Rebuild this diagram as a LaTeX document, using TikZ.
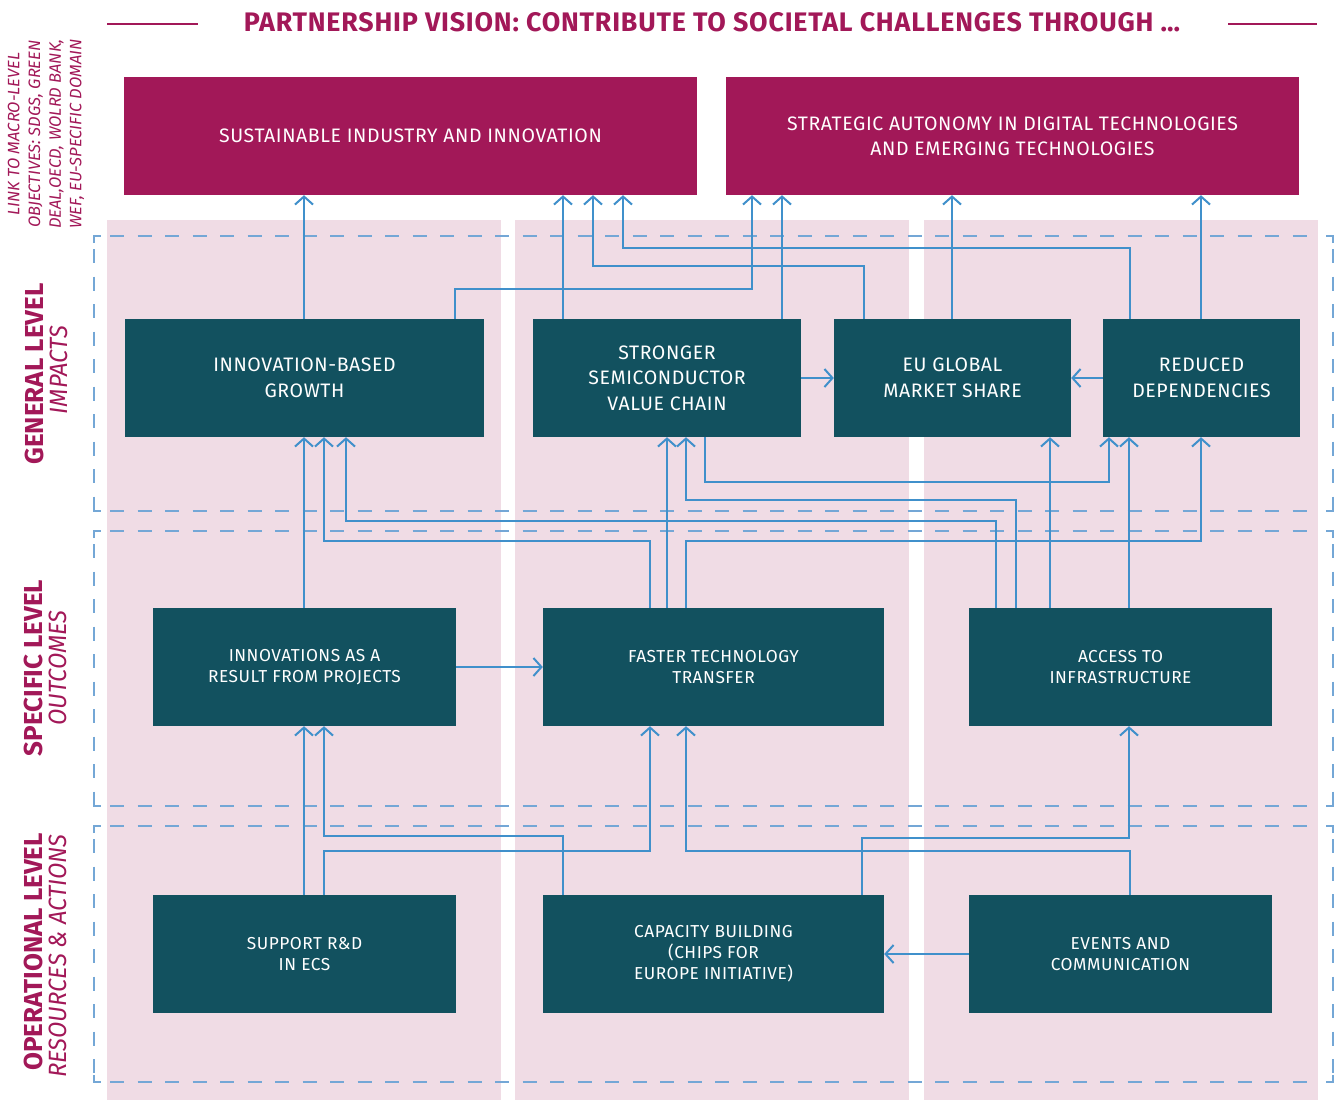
\documentclass[tikz,border=0pt]{standalone}
\usepackage{fontspec}
\usepackage{graphicx}
\setmainfont{Fira Sans}
\newfontfamily\wfont{Fira Sans}[LetterSpace=3.0]
\usetikzlibrary{arrows.meta}
\definecolor{mag}{HTML}{A21858}
\definecolor{boxteal}{HTML}{12515F}
\definecolor{pinkbg}{HTML}{F0DCE5}
\definecolor{conn}{HTML}{4090CB}
\definecolor{dashc}{HTML}{74A7D6}
\newcommand{\cnd}[2][0.85]{\scalebox{#1}[1]{#2}}
\begin{document}
\begin{tikzpicture}[x=1pt,y=-1pt,
  bigbox/.style={fill=mag, text=white, align=center, inner sep=0pt, minimum height=118pt, font=\wfont\fontsize{19.5}{25}\selectfont},
  tbox/.style={fill=boxteal, text=white, align=center, inner sep=0pt, minimum height=118pt, font=\wfont\fontsize{19.5}{25.5}\selectfont},
  sbox/.style={fill=boxteal, text=white, align=center, inner sep=0pt, minimum height=118pt, font=\wfont\fontsize{17.3}{21}\selectfont},
  arr/.style={draw=conn, line width=2pt, -{Straight Barb[length=8pt,width=18pt]}},
  dsh/.style={draw=dashc, line width=1.6pt, dash pattern=on 14pt off 13.5pt},
  crn/.style={draw=dashc, line width=1.6pt},
  lvl/.style={rotate=90, text=mag, inner sep=0pt, font=\fontsize{26}{28}\selectfont\bfseries},
  sublvl/.style={rotate=90, text=mag, inner sep=0pt, font=\fontsize{25}{28}\selectfont\itshape},
]
\useasboundingbox (0,0) rectangle (1338,1100);
% pink columns
\fill[pinkbg] (107,220) rectangle (501,1100);
\fill[pinkbg] (515,220) rectangle (909,1100);
\fill[pinkbg] (924,220) rectangle (1318,1100);
% title
\node[text=mag, font=\wfont\fontsize{26.8}{30}\selectfont\bfseries, inner sep=0pt] (title) at (712,22) {PARTNERSHIP VISION: CONTRIBUTE TO SOCIETAL CHALLENGES THROUGH \dots};
\draw[mag, line width=2.5pt] (107,24) -- (198,24);
\draw[mag, line width=2.5pt] (1228,24) -- (1317,24);
% dashed bands
\foreach \t/\b in {236/511, 531/806, 826/1082}{
  \draw[dsh, dash phase=-3pt] (107,\t) -- (1320,\t);
  \draw[dsh, dash phase=-3pt] (107,\b) -- (1320,\b);
  \draw[crn] (94,\t+7) -- (94,\t) -- (101,\t);
  \draw[crn] (94,\b-7) -- (94,\b) -- (101,\b);
  \draw[crn] (1333,\t+7) -- (1333,\t) -- (1326,\t);
  \draw[crn] (1333,\b-7) -- (1333,\b) -- (1326,\b);
  \draw[dsh, dash phase=-6pt] (94,\t+7) -- (94,\b-7);
  \draw[dsh, dash phase=-6pt] (1333,\t+7) -- (1333,\b-7);
}
% left labels
\node[rotate=90, text=mag, align=center, inner sep=0pt, font=\fontsize{16.5}{20.7}\selectfont\itshape] (macro) at (46,134)
 {LINK TO MACRO-LEVEL\\OBJECTIVES: SDGS, GREEN\\DEAL,OECD, WOLRD BANK,\\WEF, EU-SPECIFIC DOMAIN};
\node[lvl] (l1) at (34,374) {GENERAL LEVEL};
\node[sublvl] (s1) at (59,370) {\cnd[0.95]{IMPACTS}};
\node[lvl] (l2) at (33,668) {SPECIFIC LEVEL};
\node[sublvl] (s2) at (58,668) {\cnd[0.95]{OUTCOMES}};
\node[lvl] (l3) at (33,952) {OPERATIONAL LEVEL};
\node[sublvl] (s3) at (58,956) {\cnd[0.95]{RESOURCES \& ACTIONS}};
% top boxes
\node[bigbox, minimum width=573pt] (top1) at (410.5,136) {SUSTAINABLE INDUSTRY AND INNOVATION};
\node[bigbox, minimum width=573pt] (top2) at (1012.5,136) {STRATEGIC AUTONOMY IN DIGITAL TECHNOLOGIES\\AND EMERGING TECHNOLOGIES};
% row 1
\node[tbox, minimum width=359pt] (IBG) at (304.5,378) {INNOVATION-BASED\\GROWTH};
\node[tbox, minimum width=268pt] (SSVC) at (667,378) {STRONGER\\SEMICONDUCTOR\\VALUE CHAIN};
\node[tbox, minimum width=237pt] (EUGMS) at (952.5,378) {EU GLOBAL\\MARKET SHARE};
\node[tbox, minimum width=197pt] (RD) at (1201.5,378) {REDUCED\\DEPENDENCIES};
% row 2
\node[sbox, minimum width=303pt] (IRP) at (304.5,667) {INNOVATIONS AS A\\RESULT FROM PROJECTS};
\node[sbox, minimum width=341pt] (FTT) at (713.5,667) {FASTER TECHNOLOGY\\TRANSFER};
\node[sbox, minimum width=303pt] (AI) at (1120.5,667) {ACCESS TO\\INFRASTRUCTURE};
% row 3
\node[sbox, minimum width=303pt] (SRD) at (304.5,954) {SUPPORT R\&D\\IN ECS};
\node[sbox, minimum width=341pt] (CB) at (713.5,954) {CAPACITY BUILDING\\(CHIPS FOR\\EUROPE INITIATIVE)};
\node[sbox, minimum width=303pt] (EC) at (1120.5,954) {EVENTS AND\\COMMUNICATION};
% row 1 -> top
\draw[arr] (IBG.north -| 304,0) -- (top1.south -| 304,0);
\draw[arr] (IBG.north -| 455,0) |- (752,289) -- (top2.south -| 752,0);
\draw[arr] (SSVC.north -| 563,0) -- (top1.south -| 563,0);
\draw[arr] (SSVC.north -| 782,0) -- (top2.south -| 782,0);
\draw[arr] (EUGMS.north -| 864,0) |- (593,266) -- (top1.south -| 593,0);
\draw[arr] (RD.north -| 1130,0) |- (623,248) -- (top1.south -| 623,0);
\draw[arr] (EUGMS.north -| 952,0) -- (top2.south -| 952,0);
\draw[arr] (RD.north -| 1201,0) -- (top2.south -| 1201,0);
\draw[arr] (SSVC.east) -- (EUGMS.west);
\draw[arr] (RD.west) -- (EUGMS.east);
% row 2 -> row 1
\draw[arr] (IRP.north -| 304,0) -- (IBG.south -| 304,0);
\draw[arr] (FTT.north -| 650,0) |- (324,541) -- (IBG.south -| 324,0);
\draw[arr] (AI.north -| 996,0) |- (346,521) -- (IBG.south -| 346,0);
\draw[arr] (FTT.north -| 667,0) -- (SSVC.south -| 667,0);
\draw[arr] (AI.north -| 1016,0) |- (686,500) -- (SSVC.south -| 686,0);
\draw[arr] (SSVC.south -| 705,0) |- (1109,482) -- (RD.south -| 1109,0);
\draw[arr] (FTT.north -| 686,0) |- (1201,541) -- (RD.south -| 1201,0);
\draw[arr] (AI.north -| 1050,0) -- (EUGMS.south -| 1050,0);
\draw[arr] (AI.north -| 1129,0) -- (RD.south -| 1129,0);
\draw[arr] (IRP.east) -- (FTT.west);
% row 3 -> row 2
\draw[arr] (SRD.north -| 304,0) -- (IRP.south -| 304,0);
\draw[arr] (CB.north -| 563,0) |- (324,836) -- (IRP.south -| 324,0);
\draw[arr] (SRD.north -| 324,0) |- (650,851) -- (FTT.south -| 650,0);
\draw[arr] (EC.north -| 1130,0) |- (686,851) -- (FTT.south -| 686,0);
\draw[arr] (CB.north -| 862,0) |- (1129,838) -- (AI.south -| 1129,0);
\draw[arr] (EC.west) -- (CB.east);
\end{tikzpicture}
\end{document}
